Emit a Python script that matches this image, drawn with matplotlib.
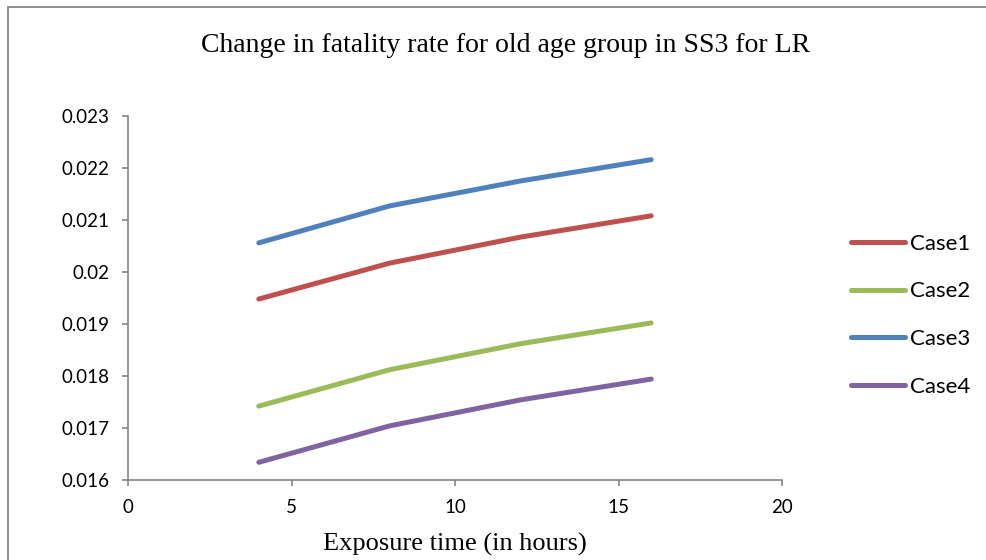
import matplotlib.pyplot as plt
from matplotlib.patches import Rectangle

# exposure time (hours)
hours = [4, 8, 12, 16]

case1 = [0.01948, 0.02017, 0.02067, 0.02108]
case2 = [0.01742, 0.01812, 0.01862, 0.01902]
case3 = [0.02056, 0.02127, 0.02175, 0.02216]
case4 = [0.01634, 0.01704, 0.01754, 0.01794]

labels = ["Case1", "Case2", "Case3", "Case4"]
colors = ["#C0504D", "#9BBB59", "#4F81BD", "#8064A2"]

fig = plt.figure(figsize=(9.87, 5.6), dpi=100)
ax = fig.add_axes([0.1297, 0.1429, 0.6626, 0.65])

for vals, lab, col in zip([case1, case2, case3, case4], labels, colors):
    ax.plot(hours, vals, color=col, lw=3.6, solid_capstyle="round", label=lab)

ax.set_xlim(0, 20)
ax.set_ylim(0.016, 0.023)
ax.set_xticks([0, 5, 10, 15, 20])
ax.set_yticks([0.016, 0.017, 0.018, 0.019, 0.02, 0.021, 0.022, 0.023])
ax.set_yticklabels(["0.016", "0.017", "0.018", "0.019", "0.02", "0.021", "0.022", "0.023"])

for s in ["top", "right"]:
    ax.spines[s].set_visible(False)
for s in ["left", "bottom"]:
    ax.spines[s].set_color("#868686")
    ax.spines[s].set_linewidth(1.2)
ax.tick_params(colors="#868686", width=1.2, length=4.5, labelcolor="black",
               labelsize=13.5)
ax.tick_params(axis="x", pad=9)
ax.tick_params(axis="y", pad=9)
for t in ax.get_xticklabels() + ax.get_yticklabels():
    t.set_family("Lato")

fig.text(0.5125, 0.918, "Change in fatality rate for old age group in SS3 for LR",
         ha="center", va="center", family="Liberation Serif", fontsize=20)
fig.text(0.461, 0.027, "Exposure time (in hours)", ha="center", va="center",
         family="Liberation Serif", fontsize=19)

leg = ax.legend(loc="center left", bbox_to_anchor=(0.842, 0.437),
                bbox_transform=fig.transFigure, frameon=False,
                handlelength=2.45, handletextpad=0.2, labelspacing=1.25,
                prop={"family": "Lato", "size": 16})

# chart border (cut off on right and bottom)
fig.patches.append(Rectangle((8 / 987, -0.1), 1.2, 1 - 7 / 560 + 0.1,
                             transform=fig.transFigure, fill=False,
                             edgecolor="#868686", lw=1.3))

fig.savefig("out.png", dpi=100)
